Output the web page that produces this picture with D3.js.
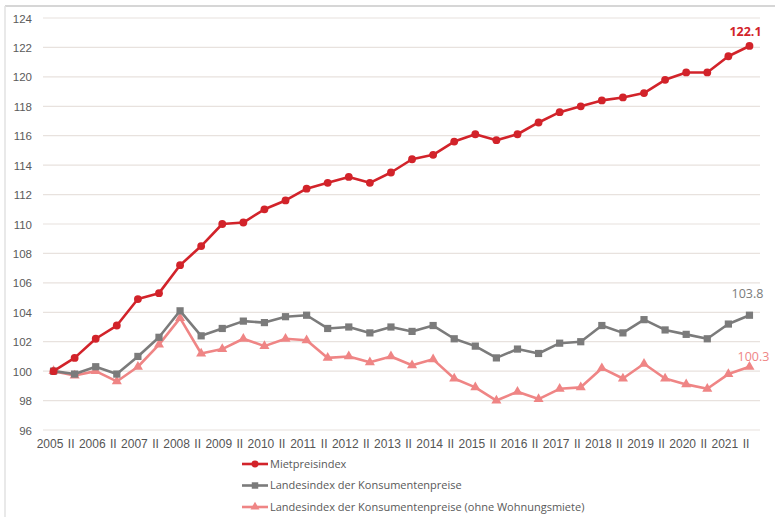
<!DOCTYPE html>
<html>
<head>
<meta charset="utf-8">
<script src="https://cdn.jsdelivr.net/npm/d3@7"></script>
<style>
  body { margin: 0; background: #fff; }
  svg { display: block; font-family: "Open Sans", "DejaVu Sans", sans-serif; }
</style>
</head>
<body>
<div id="chart"></div>
<script>
/* Daten: Halbjahreswerte 2005 II – 2021 IV */
const categories = [
  '2005', 'II', '2006', 'II', '2007', 'II', '2008', 'II', '2009', 'II',
  '2010', 'II', '2011', 'II', '2012', 'II', '2013', 'II', '2014', 'II',
  '2015', 'II', '2016', 'II', '2017', 'II', '2018', 'II', '2019', 'II',
  '2020', 'II', '2021', 'II'
];

const mietpreis = [
  100.0, 100.9, 102.2, 103.1, 104.9, 105.3, 107.2, 108.5, 110.0, 110.1,
  111.0, 111.6, 112.4, 112.8, 113.2, 112.8, 113.5, 114.4, 114.7, 115.6,
  116.1, 115.7, 116.1, 116.9, 117.6, 118.0, 118.4, 118.6, 118.9, 119.8,
  120.3, 120.3, 121.4, 122.1
];

const lik = [
  100.0, 99.8, 100.3, 99.8, 101.0, 102.3, 104.1, 102.4, 102.9, 103.4,
  103.3, 103.7, 103.8, 102.9, 103.0, 102.6, 103.0, 102.7, 103.1, 102.2,
  101.7, 100.9, 101.5, 101.2, 101.9, 102.0, 103.1, 102.6, 103.5, 102.8,
  102.5, 102.2, 103.2, 103.8
];

const likOhneMiete = [
  100.0, 99.7, 100.0, 99.3, 100.3, 101.8, 103.6, 101.2, 101.5, 102.2,
  101.7, 102.2, 102.1, 100.9, 101.0, 100.6, 101.0, 100.4, 100.8, 99.5,
  98.9, 98.0, 98.6, 98.1, 98.8, 98.9, 100.2, 99.5, 100.5, 99.5,
  99.1, 98.8, 99.8, 100.3
];

const yTicks = [96, 98, 100, 102, 104, 106, 108, 110, 112, 114, 116, 118, 120, 122, 124];

const series = [
  { name: 'Mietpreisindex', values: mietpreis, color: '#d2232a', symbol: d3.symbolCircle, size: 48, label: '122.1', labelWeight: 'bold' },
  { name: 'Landesindex der Konsumentenpreise', values: lik, color: '#7b7b7b', symbol: d3.symbolSquare, size: 52, label: '103.8', labelWeight: 'normal' },
  { name: 'Landesindex der Konsumentenpreise (ohne Wohnungsmiete)', values: likOhneMiete, color: '#ef8585', symbol: d3.symbolTriangle, size: 44, label: '100.3', labelWeight: 'normal' }
];

const W = 775, H = 517;
const plot = { left: 43, right: 760, top: 18, bottom: 430 };

const svg = d3.select('#chart').append('svg')
  .attr('width', W).attr('height', H);

// Rahmen (oben und links sichtbar)
svg.append('line').attr('x1', 5).attr('x2', W).attr('y1', 6).attr('y2', 6)
  .attr('stroke', '#d6d6d6').attr('stroke-width', 2);
svg.append('line').attr('x1', 5).attr('x2', 5).attr('y1', 6).attr('y2', H)
  .attr('stroke', '#e2e2e2').attr('stroke-width', 1.5);

// Skalen
const x = d3.scalePoint()
  .domain(d3.range(categories.length))
  .range([plot.left, plot.right])
  .padding(0.5);

const y = d3.scaleLinear()
  .domain([96, 124])
  .range([plot.bottom, plot.top]);

// Gitterlinien
svg.append('g')
  .selectAll('line')
  .data(yTicks)
  .join('line')
    .attr('x1', plot.left).attr('x2', plot.right)
    .attr('y1', d => y(d)).attr('y2', d => y(d))
    .attr('stroke', '#e8e2de').attr('stroke-width', 1.2);

// Y-Achse
const yAxis = svg.append('g')
  .attr('transform', `translate(${plot.left - 11},0)`)
  .call(d3.axisLeft(y).tickValues(yTicks).tickSize(0).tickPadding(0));
yAxis.select('.domain').remove();
yAxis.selectAll('text')
  .attr('fill', '#5a5a5a')
  .style('font-size', '11.5px')
  .attr('dy', '0.35em');

// X-Achse
const xAxis = svg.append('g')
  .attr('transform', `translate(-4,${plot.bottom})`)
  .call(d3.axisBottom(x).tickFormat(i => categories[i]).tickSize(0).tickPadding(9));
xAxis.select('.domain').remove();
xAxis.selectAll('text')
  .attr('fill', '#555')
  .style('font-size', '12px');

// Linien und Marker
const line = d3.line()
  .x((d, i) => x(i))
  .y(d => y(d));

series.slice().reverse().forEach(s => {
  const g = svg.append('g');
  g.append('path')
    .datum(s.values)
    .attr('fill', 'none')
    .attr('stroke', s.color)
    .attr('stroke-width', 2.6)
    .attr('stroke-linejoin', 'round')
    .attr('d', line);
  g.selectAll('path.marker')
    .data(s.values)
    .join('path')
      .attr('class', 'marker')
      .attr('d', d3.symbol().type(s.symbol).size(s.size))
      .attr('transform', (d, i) => `translate(${x(i)},${y(d)})`)
      .attr('fill', s.color);
});

// Endwert-Beschriftungen
const last = categories.length - 1;
svg.append('text')
  .attr('x', x(last) - 4).attr('y', y(mietpreis[last]) - 10)
  .attr('text-anchor', 'middle')
  .attr('fill', series[0].color)
  .style('font-size', '12.5px').style('font-weight', 'bold')
  .text(series[0].label);
svg.append('text')
  .attr('x', x(last) - 2).attr('y', y(lik[last]) - 17)
  .attr('text-anchor', 'middle')
  .attr('fill', '#7b7b7b')
  .style('font-size', '12.5px')
  .text(series[1].label);
svg.append('text')
  .attr('x', x(last) + 4).attr('y', y(likOhneMiete[last]) - 6)
  .attr('text-anchor', 'middle')
  .attr('fill', series[2].color)
  .style('font-size', '12.5px')
  .text(series[2].label);

// Legende
const legend = svg.append('g').attr('transform', 'translate(242,464)');
series.forEach((s, i) => {
  const row = legend.append('g').attr('transform', `translate(0,${i * 21.5})`);
  row.append('line')
    .attr('x1', 0).attr('x2', 26)
    .attr('stroke', s.color).attr('stroke-width', 2.6);
  row.append('path')
    .attr('d', d3.symbol().type(s.symbol).size(s.size * 0.8))
    .attr('transform', 'translate(13,0)')
    .attr('fill', s.color);
  row.append('text')
    .attr('x', 28).attr('dy', '0.35em')
    .attr('fill', '#595959')
    .style('font-size', '11px')
    .text(s.name);
});
</script>
</body>
</html>
